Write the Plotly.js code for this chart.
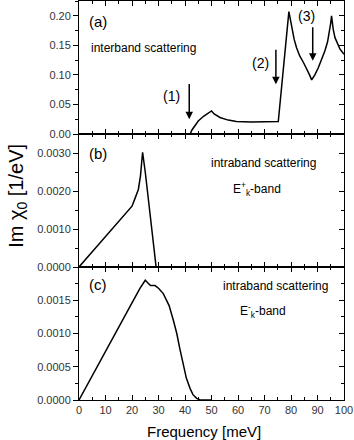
<!DOCTYPE html>
<html><head><meta charset="utf-8">
<script src="https://cdn.plot.ly/plotly-3.0.1.min.js"></script>
<style>html,body{margin:0;padding:0;background:#fff}</style>
</head><body>
<div id="chart" style="width:354px;height:440px"></div>
<script>
// Panel (a): interband scattering
const freqA = [0, 42, 42.5, 43.5, 45, 47, 49, 50, 51, 53.2, 56.3, 59.4, 65, 70, 75.2, 79.2, 80.2, 81.2, 82.1, 83.3, 84.7, 86, 87, 87.8, 89, 90.3, 91.5, 92.8, 93.8, 94.5, 95.0, 95.3, 95.9, 96.6, 97.5, 98.5, 100];
const imA   = [0, 0, 0.006, 0.013, 0.022, 0.030, 0.036, 0.039, 0.034, 0.028, 0.0235, 0.021, 0.0205, 0.0205, 0.021, 0.207, 0.180, 0.160, 0.146, 0.132, 0.121, 0.110, 0.100, 0.0915, 0.100, 0.112, 0.125, 0.141, 0.156, 0.172, 0.188, 0.200, 0.178, 0.163, 0.152, 0.1435, 0.135];
// Panel (b): intraband scattering, E+ band
const freqB = [0, 10, 18.6, 20, 21, 22.4, 23.2, 24.0, 25, 27, 29.1];
const imB   = [0, 0.00079, 0.00147, 0.00160, 0.00178, 0.00204, 0.0024, 0.00302, 0.0025, 0.0013, 0];
// Panel (c): intraband scattering, E- band
const freqC = [0, 5, 10, 15, 20, 23, 25, 26, 27, 28.7, 30, 31.8, 34, 35.6, 36.9, 38, 39.4, 40.5, 41.9, 43, 44.4, 45.7, 50];
const imC   = [0, 0.00036, 0.00073, 0.00109, 0.00146, 0.00168, 0.0018, 0.00176, 0.00172, 0.00172, 0.00168, 0.0016, 0.00142, 0.0012, 0.001, 0.00078, 0.0005, 0.00033, 0.000175, 0.00008, 0.000025, 0, 0];

const xTickVals = [0, 10, 20, 30, 40, 50, 60, 70, 80, 90, 100];
const yTicksA = [0, 0.05, 0.10, 0.15, 0.20];
const yTicksB = [0, 0.001, 0.002, 0.003];
const yTicksC = [0, 0.0005, 0.001, 0.0015];
const yRangeA = [0, 0.225], yRangeB = [0, 0.0035], yRangeC = [0, 0.002];

const fontFam = 'Liberation Sans, Arial, sans-serif';
const line = {color: '#000', width: 1.5};
const traces = [
  {x: freqA, y: imA, xaxis: 'x', yaxis: 'y', mode: 'lines', line: line},
  {x: freqB, y: imB, xaxis: 'x2', yaxis: 'y2', mode: 'lines', line: line},
  {x: freqC, y: imC, xaxis: 'x3', yaxis: 'y3', mode: 'lines', line: line},
  {x: [], y: [], xaxis: 'x', yaxis: 'y4', mode: 'lines', showlegend: false},
  {x: [], y: [], xaxis: 'x2', yaxis: 'y5', mode: 'lines', showlegend: false},
  {x: [], y: [], xaxis: 'x3', yaxis: 'y6', mode: 'lines', showlegend: false}
];

function xax(showLabels, anchor) {
  return {anchor: anchor, domain: [0, 1], range: [0, 100], tickvals: xTickVals,
    showticklabels: showLabels, ticks: 'inside', ticklen: 5, tickwidth: 1, tickcolor: '#000',
    minor: {dtick: 5, ticks: 'inside', ticklen: 3, tickcolor: '#000'},
    showline: true, linecolor: '#000', linewidth: 1, mirror: 'ticks', showgrid: false, zeroline: false,
    tickfont: {family: fontFam, size: 11, color: '#333'}};
}
function yax(range, tickvals, minorDt, fmt, domain, anchor) {
  return {anchor: anchor, domain: domain, range: range, tickvals: tickvals, tickformat: fmt,
    ticks: 'outside', ticklen: 5, tickwidth: 1, tickcolor: '#000',
    minor: {dtick: minorDt, tick0: 0, ticks: 'outside', ticklen: 3, tickcolor: '#000'},
    showline: true, linecolor: '#000', linewidth: 1, mirror: true, showgrid: false, zeroline: false,
    tickfont: {family: fontFam, size: 11, color: '#333'}};
}
function yright(range, tickvals, minorDt, over) {
  return {overlaying: over, side: 'right', range: range, tickvals: tickvals, showticklabels: false,
    ticks: 'inside', ticklen: 5, tickwidth: 1, tickcolor: '#000',
    minor: {dtick: minorDt, tick0: 0, ticks: 'inside', ticklen: 3, tickcolor: '#000'},
    showline: false, showgrid: false, zeroline: false};
}

const dA = [2/3, 1], dB = [1/3, 2/3], dC = [0, 1/3];
const txt = (s, x, y, xr, yr, size, xa) => ({text: s, x: x, y: y, xref: xr, yref: yr, showarrow: false,
  xanchor: xa || 'left', yanchor: 'middle', font: {family: fontFam, size: size, color: '#000'}});
const arrow = (x, yTail, yHead, xr, yr) => ({x: x, y: yHead, ax: x, ay: yTail, xref: xr, yref: yr, axref: xr, ayref: yr,
  text: '', showarrow: true, arrowhead: 2, arrowsize: 1, arrowwidth: 1.5, arrowcolor: '#000', standoff: 0});

const layout = {
  width: 354, height: 440,
  margin: {l: 79, r: 10, t: 1, b: 40},
  showlegend: false,
  paper_bgcolor: '#fff', plot_bgcolor: '#fff',
  xaxis: xax(false, 'y'), yaxis: yax(yRangeA, yTicksA, 0.025, '.2f', dA, 'x'),
  xaxis2: xax(false, 'y2'), yaxis2: yax(yRangeB, yTicksB, 0.0005, '.4f', dB, 'x2'),
  xaxis3: xax(true, 'y3'), yaxis3: yax(yRangeC, yTicksC, 0.00025, '.4f', dC, 'x3'),
  yaxis4: yright(yRangeA, yTicksA, 0.025, 'y'),
  yaxis5: yright(yRangeB, yTicksB, 0.0005, 'y2'),
  yaxis6: yright(yRangeC, yTicksC, 0.00025, 'y3'),
  annotations: [
    txt('(a)', 3, 0.19, 'x', 'y', 15),
    txt('interband scattering', 3.8, 0.145, 'x', 'y', 12),
    txt('(1)', 35, 0.065, 'x', 'y', 14, 'center'),
    txt('(2)', 68.5, 0.12, 'x', 'y', 14, 'center'),
    txt('(3)', 86, 0.2, 'x', 'y', 14, 'center'),
    arrow(41.6, 0.087, 0.025, 'x', 'y'),
    arrow(74.3, 0.145, 0.084, 'x', 'y'),
    arrow(88.2, 0.183, 0.124, 'x', 'y'),
    txt('(b)', 3, 0.003, 'x2', 'y2', 15),
    txt('intraband scattering', 69.6, 0.00275, 'x2', 'y2', 12, 'center'),
    txt('E<sup>+</sup><sub>k</sub>-band', 67, 0.00204, 'x2', 'y2', 12, 'center'),
    txt('(c)', 3, 0.00173, 'x3', 'y3', 15),
    txt('intraband scattering', 74, 0.00171, 'x3', 'y3', 12, 'center'),
    txt('E<sup>-</sup><sub>k</sub>-band', 69.6, 0.00134, 'x3', 'y3', 12, 'center'),
    {text: 'Im χ<sub>0</sub> [1/eV]', xref: 'paper', yref: 'paper', x: -0.235, y: 0.511, showarrow: false,
     textangle: -90, xanchor: 'center', yanchor: 'middle', font: {family: fontFam, size: 20, color: '#000'}},
    {text: 'Frequency [meV]', xref: 'paper', yref: 'paper', x: 0.47, y: -0.08, showarrow: false,
     xanchor: 'center', yanchor: 'middle', font: {family: fontFam, size: 15, color: '#000'}}
  ]
};
Plotly.newPlot('chart', traces, layout, {displayModeBar: false, staticPlot: true});
</script>
</body></html>
